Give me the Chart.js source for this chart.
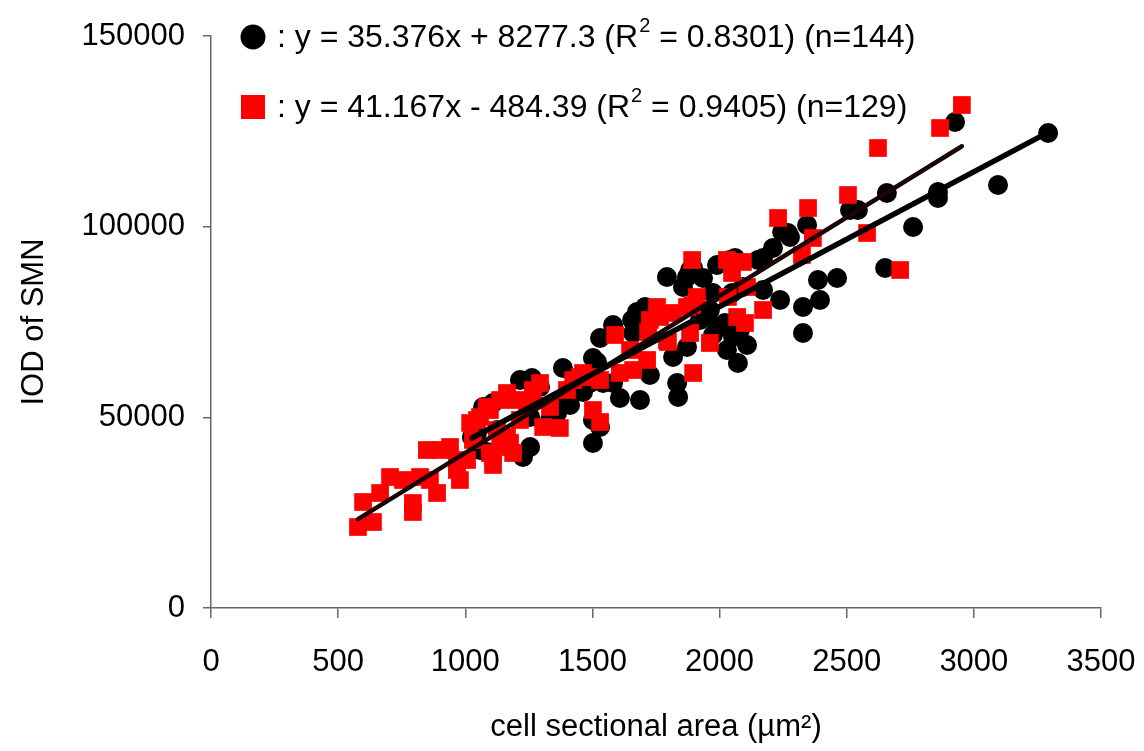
<!DOCTYPE html>
<html><head><meta charset="utf-8">
<script src="https://cdn.jsdelivr.net/npm/chart.js@4"></script>
<style>html,body{margin:0;padding:0;background:#fff}canvas{display:block}</style>
</head><body>
<canvas id="c" width="1144" height="751"></canvas>
<script>
// ---- data ----
const blackX = [1581,1530,1502,1384,1656,1675,1660,1608,1687,1542,1463,1412,1502,1530,1502,1361,1333,1255,1215,1262,1109,1070,1046,1058,1227,1255,1361,1294,1085,1125,1026,
  1896,1872,1935,1990,2041,1793,1707,1687,1518,1581,1490,1833,1837,1726,1817,1872,1951,2002,2080,2108,2072,1974,1962,2029,2053,1923,2151,2513,2344,2269,2246,2210,2171,2061,1884,1856,1974,2049,2171,2092,2387,2462,2238,2328,2395,2021,2328,2926,3292,3095,2859,2859,2658,2544,2277,2761,2651];
const blackY = [74214,70805,65560,62938,75525,77623,72116,55070,54546,59004,56644,53235,49301,47465,43270,51137,49301,50088,59791,60315,53759,52710,45892,41434,39598,42221,53759,57955,40909,46679,44843,
  89162,86801,86539,89948,91260,86801,78934,76050,64511,59004,59004,59004,55333,61102,65822,68445,76312,73689,72903,68969,64249,71592,78148,67658,71067,75525,91260,104372,100438,98340,98602,94406,91784,91784,88637,84179,82606,82606,83392,84179,86015,86539,80770,78934,80770,74738,72116,127449,124564,110928,109092,107518,108830,104372,97291,99913,89162];
const redX = [578,637,598,665,704,755,794,794,822,861,889,849,901,940,967,979,1019,1030,1007,1058,1097,1125,1109,1164,1203,1215,1176,1243,1266,
  1589,1648,1608,1660,1463,1502,1530,1424,1400,1294,1266,1137,1085,1046,1333,1306,1372,1502,1530,1164,1137,1097,1109,1188,967,
  1892,2029,2092,2049,1911,1872,1754,1817,1726,1766,1719,1884,1793,1962,2069,2100,2033,2108,1715,1451,1896,2171,2505,2348,2230,2367,2324,1892,1797,2953,2867,2623,2580,2710];
const redY = [21241,22553,27797,30158,34353,33567,27535,25175,34353,33567,30158,41434,41434,42221,38025,33567,48514,44056,38812,50088,51924,46679,39598,56382,54546,49301,43270,53759,57168,
  71592,67658,61626,62413,61626,60577,59791,59791,57168,59004,56382,54546,52710,49301,52710,47465,47203,51924,48777,44843,42221,40647,37500,40647,36189,
  91260,91260,90735,87850,81557,78934,78934,77361,75525,76312,72378,72116,70280,69494,76312,74738,81557,84179,65036,60577,61626,78148,108305,104896,102274,97029,92571,79459,69756,131907,125875,120630,98340,88637];
const xTicks = [0,500,1000,1500,2000,2500,3000,3500];
const yTicks = [0,50000,100000,150000];
// trend lines as stated in the chart: y = slope*x + intercept over the x span of each group
const blackFit = [35.376, 8277.3, 0.8301, 144];   // slope, intercept, R2, n
const redFit   = [41.167, -484.39, 0.9405, 129];
const blackSpan = [1026, 3292];
const redSpan   = [578, 2953];

const FONT = '"Liberation Sans", Arial, sans-serif';
const pts = (xs, ys) => xs.map((x, i) => ({x, y: ys[i]}));
const fitPts = (f, s) => s.map(x => ({x, y: f[0] * x + f[1]}));
const eqText = f => {
  const b = f[1] < 0 ? ' - ' + Math.abs(f[1]) : ' + ' + f[1];
  return [': y = ' + f[0] + 'x' + b + ' (R', '2', ' = ' + f[2] + ') (n=' + f[3] + ')'];
};

const eqLegend = {
  id: 'eqLegend',
  afterDraw(chart) {
    const ctx = chart.ctx;
    ctx.save();
    ctx.fillStyle = '#000';
    ctx.beginPath(); ctx.arc(253, 37, 12.5, 0, Math.PI * 2); ctx.fill();
    ctx.fillStyle = '#ff0000';
    ctx.fillRect(241, 95, 24, 24);
    const rows = [[eqText(blackFit), 38], [eqText(redFit), 108]];
    ctx.fillStyle = '#000';
    ctx.textBaseline = 'middle';
    rows.forEach(([parts, y]) => {
      let x = 277;
      ctx.font = '32px ' + FONT;
      ctx.fillText(parts[0], x, y); x += ctx.measureText(parts[0]).width;
      ctx.font = '20px ' + FONT;
      ctx.fillText(parts[1], x + 1, y - 12); x += ctx.measureText(parts[1]).width + 1;
      ctx.font = '32px ' + FONT;
      ctx.fillText(parts[2], x, y);
    });
    ctx.restore();
  }
};

new Chart(document.getElementById('c'), {
  type: 'scatter',
  data: {
    datasets: [
      {label: 'black fit', data: fitPts(blackFit, blackSpan), showLine: true, borderColor: '#000', borderWidth: 5.5, borderCapStyle: 'round', pointRadius: 0, order: 0},
      {label: 'red fit', data: fitPts(redFit, redSpan), showLine: true, borderColor: '#1a0505', borderWidth: 4.5, borderCapStyle: 'round', pointRadius: 0, order: 0},
      {label: 'red', data: pts(redX, redY), pointStyle: 'rect', pointRadius: 12.5, backgroundColor: '#ff0000', borderWidth: 0, order: 1},
      {label: 'black', data: pts(blackX, blackY), pointStyle: 'circle', pointRadius: 10, backgroundColor: '#000', borderWidth: 0, order: 2}
    ]
  },
  options: {
    responsive: false, animation: false, devicePixelRatio: 1,
    layout: {padding: {left: 0, right: 43, top: 36, bottom: 0}},
    plugins: {legend: {display: false}, tooltip: {enabled: false}},
    scales: {
      x: {
        type: 'linear', min: 0, max: 3500,
        afterBuildTicks: s => { s.ticks = xTicks.map(v => ({value: v})); },
        afterFit: s => { s.height = 143; s.paddingLeft = 0; s.paddingRight = 0; },
        border: {color: '#666', width: 1.5},
        grid: {drawOnChartArea: false, drawTicks: true, tickLength: 10, color: '#666', lineWidth: 1.5},
        ticks: {font: {size: 31, family: FONT}, color: '#000', padding: 26, maxRotation: 0, autoSkip: false, callback: v => String(v)},
        title: {display: true, text: 'cell sectional area (µm²)', font: {size: 31, family: FONT}, color: '#000', padding: {top: 0, bottom: 5}}
      },
      y: {
        type: 'linear', min: 0, max: 150000,
        afterBuildTicks: s => { s.ticks = yTicks.map(v => ({value: v})); },
        afterFit: s => { s.width = 211; s.paddingTop = 0; s.paddingBottom = 0; },
        border: {color: '#666', width: 1.5},
        grid: {drawOnChartArea: false, drawTicks: true, tickLength: 8, color: '#666', lineWidth: 1.5},
        ticks: {font: {size: 31, family: FONT}, color: '#000', padding: 18, autoSkip: false, callback: v => String(v)},
        title: {display: true, text: 'IOD of SMN', font: {size: 31, family: FONT}, color: '#000', padding: {top: 16, bottom: 0}}
      }
    }
  },
  plugins: [eqLegend]
});
</script>
</body></html>
